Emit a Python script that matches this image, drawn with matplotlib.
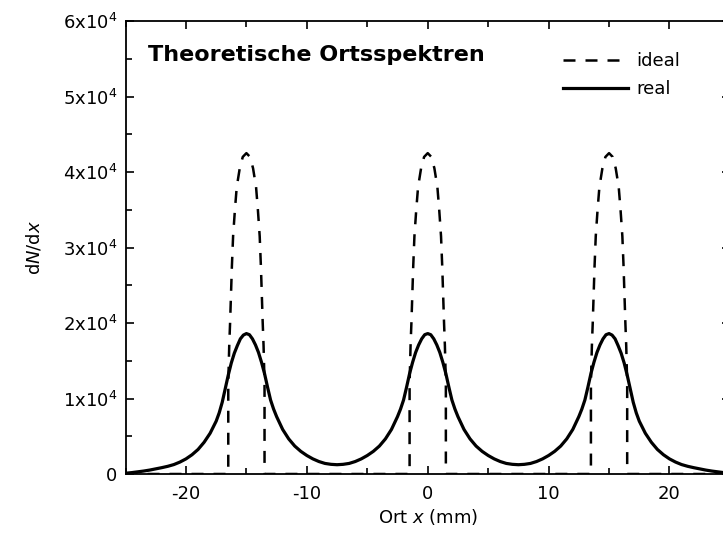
import matplotlib
matplotlib.use("Agg")
import matplotlib.pyplot as plt
from matplotlib.ticker import MultipleLocator, FuncFormatter

plt.rcParams['font.family'] = ['DejaVu Sans']
plt.rcParams['mathtext.fontset'] = 'dejavusans'
plt.rcParams['axes.unicode_minus'] = False

# real spectrum (smeared peaks), x in mm
real_x = [-25, -24.5, -24, -23.5, -23, -22.5, -22, -21.5, -21, -20.5, -20, -19.5, -19, -18.5, -18, -17.5,
          -17.25, -17, -16.75, -16.5, -16.25, -16, -15.75, -15.5, -15.25, -15,
          -14.75, -14.5, -14.25, -14, -13.75, -13.5, -13.25, -13, -12.75, -12.5,
          -12, -11.5, -11, -10.5, -10, -9.5, -9, -8.5, -8, -7.5,
          -7, -6.5, -6, -5.5, -5, -4.5, -4, -3.5, -3, -2.5,
          -2.25, -2, -1.75, -1.5, -1.25, -1, -0.75, -0.5, -0.25, 0,
          0.25, 0.5, 0.75, 1, 1.25, 1.5, 1.75, 2, 2.25, 2.5,
          3, 3.5, 4, 4.5, 5, 5.5, 6, 6.5, 7, 7.5,
          8, 8.5, 9, 9.5, 10, 10.5, 11, 11.5, 12, 12.5,
          12.75, 13, 13.25, 13.5, 13.75, 14, 14.25, 14.5, 14.75, 15,
          15.25, 15.5, 15.75, 16, 16.25, 16.5, 16.75, 17, 17.25, 17.5,
          18, 18.5, 19, 19.5, 20, 20.5, 21, 21.5, 22, 22.5, 23, 23.5, 24, 24.5, 25]
real_y = [100, 180, 280, 390, 520, 680, 840, 1020, 1250, 1580, 2000, 2550, 3250, 4200, 5400, 7000,
          8100, 9500, 11300, 13100, 14700, 16000, 17000, 17900, 18400, 18600,
          18450, 17900, 17100, 16100, 14800, 13300, 11500, 9800, 8600, 7600,
          5900, 4650, 3700, 3000, 2450, 2000, 1650, 1400, 1280, 1230,
          1280, 1400, 1650, 2000, 2450, 3000, 3700, 4650, 5900, 7600,
          8600, 9800, 11500, 13300, 14800, 16100, 17100, 17900, 18450, 18600,
          18450, 17900, 17100, 16100, 14800, 13300, 11500, 9800, 8600, 7600,
          5900, 4650, 3700, 3000, 2450, 2000, 1650, 1400, 1280, 1230,
          1280, 1400, 1650, 2000, 2450, 3000, 3700, 4650, 5900, 7600,
          8600, 9800, 11500, 13300, 14800, 16100, 17100, 17900, 18450, 18600,
          18400, 17900, 17000, 16000, 14700, 13100, 11300, 9500, 8100, 7000,
          5400, 4200, 3250, 2550, 2000, 1580, 1250, 1020, 840, 680, 520, 390, 280, 180, 100]

# ideal spectrum (sharp peaks)
ideal_x = [-25, -16.5, -16.5, -16.42, -16.35, -16.28, -16.2, -16.1, -15.95, -15.8, -15.55, -15.3, -15,
           -14.7, -14.45, -14.2, -14.05, -13.9, -13.8, -13.72, -13.65, -13.58, -13.5, -13.5,
           -1.5, -1.5, -1.42, -1.35, -1.28, -1.2, -1.1, -0.95, -0.8, -0.55, -0.3, 0,
           0.3, 0.55, 0.8, 0.95, 1.1, 1.2, 1.28, 1.35, 1.42, 1.5, 1.5,
           13.5, 13.5, 13.58, 13.65, 13.72, 13.8, 13.9, 14.05, 14.2, 14.45, 14.7, 15,
           15.3, 15.55, 15.8, 15.95, 16.1, 16.2, 16.28, 16.35, 16.42, 16.5, 16.5, 25]
ideal_y = [0, 0, 12000, 17000, 20000, 23500, 27500, 31500, 35000, 38000, 40500, 42000, 42500,
           42000, 40500, 38000, 35000, 31500, 27500, 23500, 20000, 17000, 12000, 0,
           0, 12000, 17000, 20000, 23500, 27500, 31500, 35000, 38000, 40500, 42000, 42500,
           42000, 40500, 38000, 35000, 31500, 27500, 23500, 20000, 17000, 12000, 0,
           0, 12000, 17000, 20000, 23500, 27500, 31500, 35000, 38000, 40500, 42000, 42500,
           42000, 40500, 38000, 35000, 31500, 27500, 23500, 20000, 17000, 12000, 0, 0]

y_ticks = [0, 10000, 20000, 30000, 40000, 50000, 60000]
x_ticks = [-20, -10, 0, 10, 20]


def y_fmt(v, pos):
    if v == 0:
        return "0"
    return r"%dx10$^{4}$" % round(v / 1e4)


fig = plt.figure(figsize=(7.23, 5.39), dpi=100)
ax = fig.add_axes([0.1736, 0.1206, 0.836, 0.8404])

ax.plot(ideal_x, ideal_y, color='black', lw=1.8, dashes=(4.8, 4.0), label='ideal')
ax.plot(real_x, real_y, color='black', lw=2.3, label='real')

ax.set_xlim(-25, 25)
ax.set_ylim(0, 60000)
ax.set_xticks(x_ticks)
ax.set_yticks(y_ticks)
ax.xaxis.set_minor_locator(MultipleLocator(5))
ax.yaxis.set_minor_locator(MultipleLocator(5000))
ax.yaxis.set_major_formatter(FuncFormatter(y_fmt))
ax.tick_params(which='both', direction='in', top=True, right=True, width=1.2, labelsize=13)
ax.tick_params(which='major', length=6)
ax.tick_params(which='minor', length=4)
ax.tick_params(axis='y', pad=6)
ax.tick_params(axis='x', pad=8)
for s in ax.spines.values():
    s.set_linewidth(1.3)

ax.set_xlabel(r"Ort $x$ (mm)", fontsize=13, labelpad=3)
ax.set_ylabel(r"d$N$/d$x$", fontsize=13, labelpad=14)

ax.text(0.037, 0.925, "Theoretische Ortsspektren", transform=ax.transAxes,
        fontsize=16, fontweight='bold', va='center', ha='left')

ax.legend(loc='upper left', bbox_to_anchor=(0.724, 0.931), frameon=False,
          fontsize=13, handlelength=3.6, handletextpad=0.45, borderpad=0,
          borderaxespad=0, labelspacing=0.55)

fig.savefig("out.png", dpi=100)
